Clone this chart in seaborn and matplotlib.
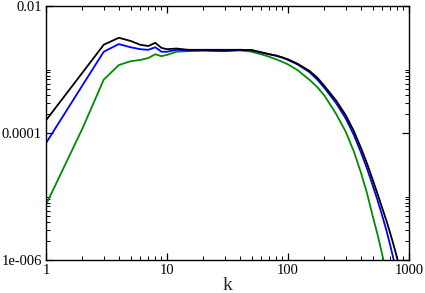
import matplotlib
matplotlib.use("Agg")
import matplotlib.pyplot as plt
import matplotlib.ticker as mticker
import pandas as pd
import seaborn as sns

# wavenumbers
k = [1, 2, 3, 4, 5, 6, 7, 8, 9, 10, 12, 15, 20, 30, 40, 50, 60, 70, 80, 90,
     100, 120, 150, 175, 200, 250, 300, 350, 400, 450, 500, 550, 600, 650,
     700, 750, 800, 850, 900, 1000]

spec_black = [1.585e-4, 8.91e-4, 2.455e-3, 3.162e-3, 2.818e-3, 2.455e-3, 2.344e-3,
              2.630e-3, 2.188e-3, 2.089e-3, 2.138e-3, 2.042e-3, 2.042e-3, 2.042e-3,
              2.042e-3, 2.018e-3, 1.862e-3, 1.738e-3, 1.660e-3, 1.549e-3, 1.445e-3,
              1.230e-3, 9.55e-4, 7.41e-4, 5.50e-4, 3.24e-4, 1.905e-4, 1.072e-4,
              5.89e-5, 3.31e-5, 1.86e-5, 1.096e-5, 6.61e-6, 4.17e-6, 2.63e-6,
              1.66e-6, 1.047e-6, 6.46e-7, 3.98e-7, 1.26e-7]

spec_blue = [6.92e-5, 5.62e-4, 1.905e-3, 2.512e-3, 2.239e-3, 2.089e-3, 2.042e-3,
             2.239e-3, 1.905e-3, 1.905e-3, 2.042e-3, 1.995e-3, 1.995e-3, 1.950e-3,
             2.042e-3, 2.018e-3, 1.862e-3, 1.738e-3, 1.641e-3, 1.531e-3, 1.413e-3,
             1.202e-3, 9.12e-4, 6.92e-4, 5.13e-4, 2.95e-4, 1.698e-4, 9.33e-5,
             5.01e-5, 2.75e-5, 1.514e-5, 8.71e-6, 5.01e-6, 2.95e-6, 1.698e-6,
             9.77e-7, 5.62e-7, 3.16e-7, 1.66e-7, 5.0e-8]

spec_green = [7.41e-6, 1.175e-4, 6.92e-4, 1.175e-3, 1.349e-3, 1.413e-3, 1.514e-3,
              1.738e-3, 1.622e-3, 1.698e-3, 1.905e-3, 1.950e-3, 1.995e-3, 1.950e-3,
              1.995e-3, 1.905e-3, 1.738e-3, 1.585e-3, 1.445e-3, 1.318e-3, 1.202e-3,
              9.77e-4, 6.92e-4, 5.25e-4, 3.89e-4, 1.995e-4, 1.047e-4, 5.13e-5,
              2.40e-5, 1.122e-5, 5.01e-6, 2.51e-6, 1.230e-6, 6.03e-7, 2.82e-7,
              1.26e-7, 6.3e-8, 3.2e-8, 1.6e-8, 4.0e-9]

x_ticks = [1, 10, 100, 1000]
x_labels = ["1", "10", "100", "1000"]
y_ticks = [1e-6, 1e-4, 1e-2]
y_labels = ["1e-006", "0.0001", "0.01"]

sns.set_theme(style="ticks")
plt.rcParams["font.family"] = ["Liberation Serif", "DejaVu Serif"]

fig = plt.figure(figsize=(4.25, 2.93), dpi=100)
ax = fig.add_axes([46 / 425, 33 / 293, 363 / 425, 254 / 293])

df = pd.DataFrame({"k": k, "black": spec_black, "blue": spec_blue, "green": spec_green})
for col, color in [("green", "#008c00"), ("blue", "#0000ff"), ("black", "#000000")]:
    sns.lineplot(data=df, x="k", y=col, color=color, linewidth=1.3, ax=ax, sort=False)

ax.set_xscale("log")
ax.set_yscale("log")
ax.set_xlim(1, 1000)
ax.set_ylim(1e-6, 1e-2)

ax.xaxis.set_major_locator(mticker.FixedLocator(x_ticks))
ax.xaxis.set_major_formatter(mticker.FixedFormatter(x_labels))
ax.xaxis.set_minor_locator(mticker.LogLocator(base=10, subs=range(2, 10)))
ax.xaxis.set_minor_formatter(mticker.NullFormatter())

ax.yaxis.set_major_locator(mticker.FixedLocator(y_ticks))
ax.yaxis.set_major_formatter(mticker.FixedFormatter(y_labels))
ax.yaxis.set_minor_locator(mticker.FixedLocator(
    [m * 10.0 ** e for e in (-6, -4) for m in range(2, 11)]))
ax.yaxis.set_minor_formatter(mticker.NullFormatter())

ax.tick_params(which="both", direction="in", top=True, right=True, colors="black",
               labelsize=10.5)
ax.tick_params(which="major", length=5, width=0.9, pad=3)
ax.tick_params(which="minor", length=3, width=0.7)
for s in ax.spines.values():
    s.set_color("black")
    s.set_linewidth(1.0)

ax.set_xlabel("k", fontsize=14, labelpad=0)
ax.set_ylabel("")

fig.savefig("out.png", dpi=100)
